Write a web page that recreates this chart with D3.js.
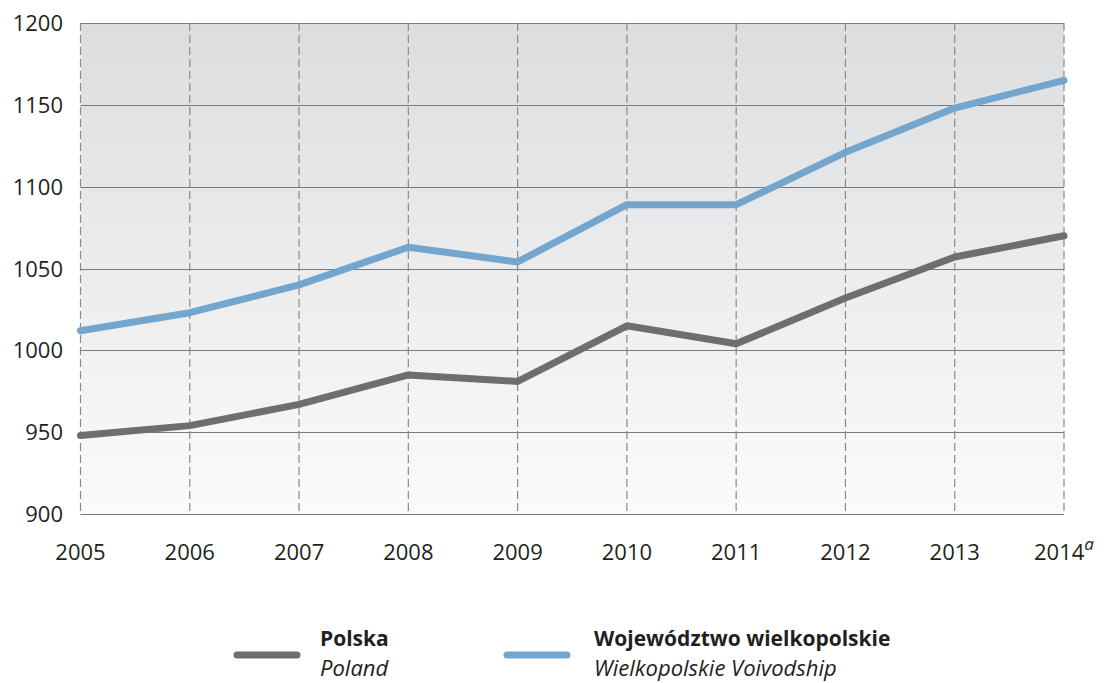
<!DOCTYPE html>
<html><head><meta charset="utf-8">
<script src="https://cdn.jsdelivr.net/npm/d3@7"></script>
<style>body{margin:0;background:#fff}svg{display:block}text{font-family:"Open Sans",sans-serif;fill:#231f20}</style>
</head><body>
<svg id="c" width="1107" height="683"></svg>
<script>
const years = ["2005","2006","2007","2008","2009","2010","2011","2012","2013","2014"];
const poland = [948, 954, 967, 985, 981, 1015, 1004, 1032, 1057, 1070];
const wielkopolskie = [1012, 1023, 1040, 1063, 1054, 1089, 1089, 1121, 1148, 1165];
const yTicks = [900, 950, 1000, 1050, 1100, 1150, 1200];
const seriesNames = [["Polska","Poland"],["Województwo wielkopolskie","Wielkopolskie Voivodship"]];

const svg = d3.select("#c");
const L = 80.5, R = 1064, T = 23, B = 514;
const x = d3.scalePoint().domain(years).range([L, R]);
const y = d3.scaleLinear().domain([900, 1200]).range([B, T]);

const defs = svg.append("defs");
const g = defs.append("linearGradient").attr("id","bg").attr("x1",0).attr("y1",0).attr("x2",0).attr("y2",1);
g.append("stop").attr("offset","0%").attr("stop-color","#dcdddf");
g.append("stop").attr("offset","100%").attr("stop-color","#fbfbfb");
svg.append("rect").attr("x",L).attr("y",T).attr("width",R-L).attr("height",B-T).attr("fill","url(#bg)");

// horizontal grid
svg.append("g").selectAll("line").data(yTicks).join("line")
  .attr("x1",L).attr("x2",R).attr("y1",d=>Math.round(y(d))+0.5).attr("y2",d=>Math.round(y(d))+0.5)
  .attr("stroke","#7a7a7c").attr("stroke-width",1.2);
// vertical dashed grid
svg.append("g").selectAll("line").data(years).join("line")
  .attr("x1",d=>x(d)).attr("x2",d=>x(d)).attr("y1",T).attr("y2",B)
  .attr("stroke","#8a8a8c").attr("stroke-width",1.2).attr("stroke-dasharray","8,4");

// y axis labels
svg.append("g").selectAll("text").data(yTicks).join("text")
  .attr("x",63).attr("y",d=>y(d)+8).attr("text-anchor","end").attr("font-size",22).text(d=>d);
// x axis labels
const xl = svg.append("g").selectAll("text").data(years).join("text")
  .attr("x",d=>x(d)).attr("y",560).attr("text-anchor","middle").attr("font-size",22);
xl.text(d=>d);
xl.filter(d=>d==="2014").append("tspan").attr("font-style","italic").attr("font-size",17).attr("dy",-10).text("a");

const line = d3.line().x((d,i)=>x(years[i])).y(d=>y(d));
svg.append("path").datum(poland).attr("d",line).attr("fill","none").attr("stroke","#6d6e70").attr("stroke-width",7).attr("stroke-linejoin","round").attr("stroke-linecap","round");
svg.append("path").datum(wielkopolskie).attr("d",line).attr("fill","none").attr("stroke","#74a6cd").attr("stroke-width",7).attr("stroke-linejoin","round").attr("stroke-linecap","round");

// legend
const leg = [{x1:237,x2:297,tx:320,c:"#6d6e70",n:seriesNames[0]},{x1:507,x2:567,tx:594,c:"#74a6cd",n:seriesNames[1]}];
leg.forEach(l=>{
  svg.append("line").attr("x1",l.x1).attr("x2",l.x2).attr("y1",655).attr("y2",655).attr("stroke",l.c).attr("stroke-width",7).attr("stroke-linecap","round");
  svg.append("text").attr("x",l.tx).attr("y",646).attr("font-size",21).attr("font-weight","bold").text(l.n[0]);
  svg.append("text").attr("x",l.tx).attr("y",676).attr("font-size",22).attr("font-style","italic").text(l.n[1]);
});
</script>
</body></html>
